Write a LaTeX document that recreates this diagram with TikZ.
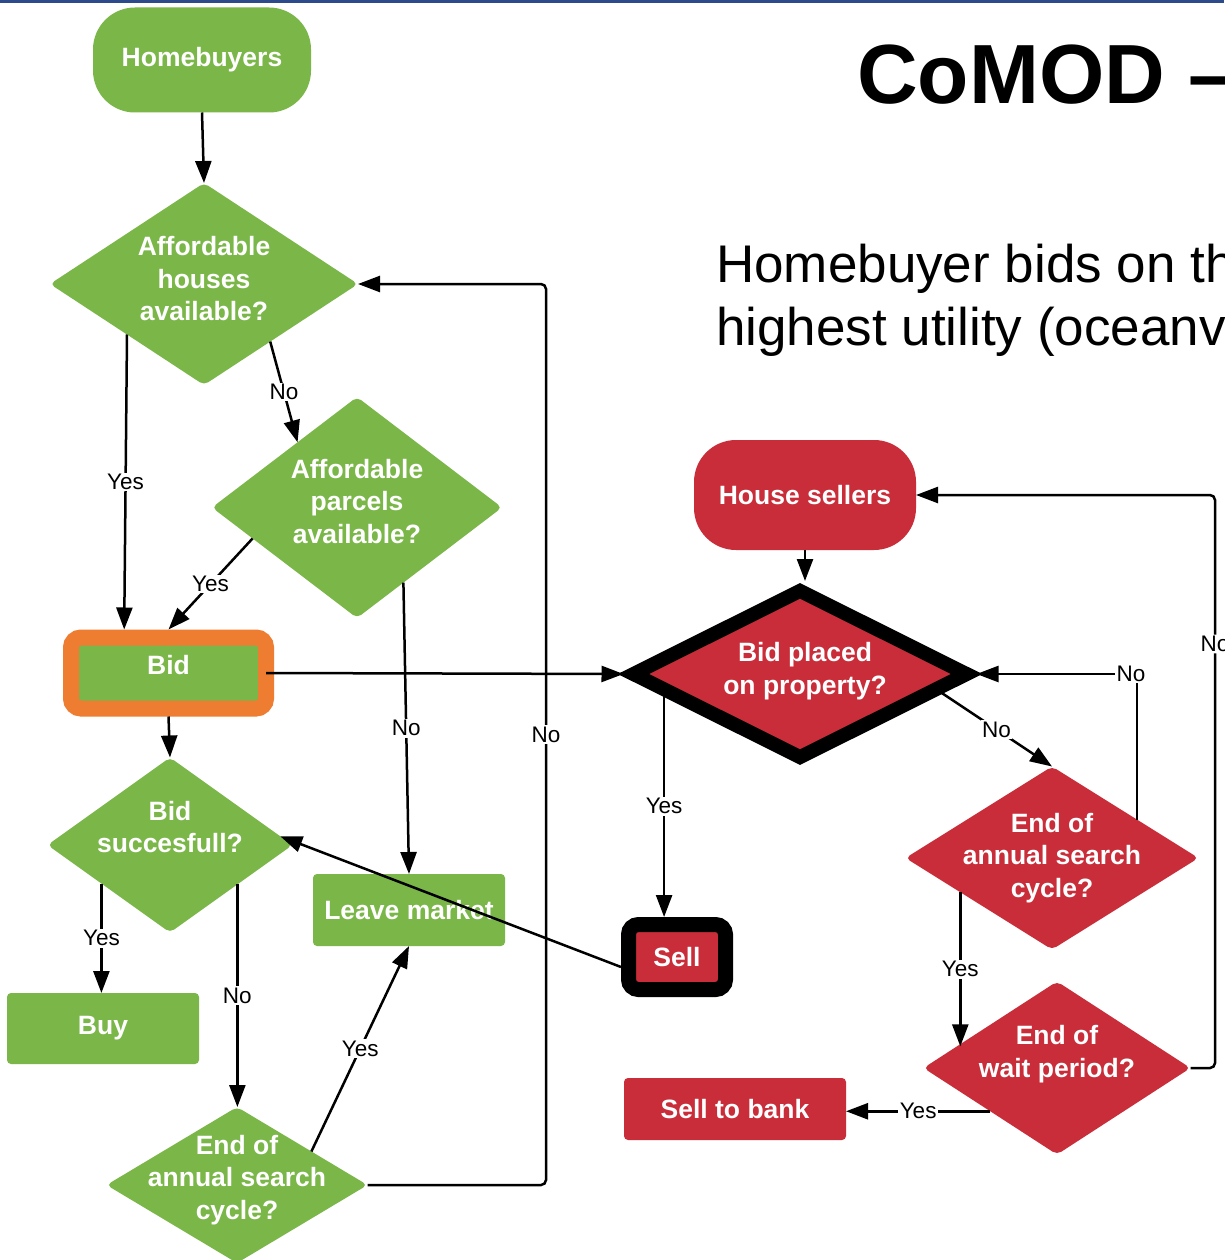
\documentclass[tikz,border=0pt]{standalone}
\usepackage{fontspec}
\setmainfont{Liberation Sans}
\usetikzlibrary{shapes.geometric,arrows.meta,calc}
\definecolor{lgreen}{HTML}{7AB648}
\definecolor{lred}{HTML}{C92D39}
\definecolor{lorange}{HTML}{EE7D31}
\definecolor{slideblue}{HTML}{2D4A8A}
\begin{document}
\begin{tikzpicture}[x=1pt,y=-1pt,
  boxtext/.style={text=white, font=\fontsize{26.5}{32.5}\selectfont\bfseries, align=center, inner sep=0pt},
  gbox/.style={rectangle, fill=lgreen, rounded corners=4pt, inner sep=0pt, outer sep=0pt, boxtext},
  rbox/.style={rectangle, fill=lred, rounded corners=4pt, inner sep=0pt, outer sep=0pt, boxtext},
  gdia/.style={diamond, fill=lgreen, rounded corners=5pt, inner sep=0pt, outer sep=0pt},
  rdia/.style={diamond, fill=lred, rounded corners=5pt, inner sep=0pt, outer sep=0pt},
  arr/.style={draw=black, line width=2.5pt, -{Triangle[length=22pt,width=16pt]}},
  lbl/.style={fill=white, inner sep=1.5pt, text=black, font=\fontsize{22.5}{25}\selectfont},
]
\useasboundingbox (0,0) rectangle (1224,1260);
\fill[white] (0,0) rectangle (1224,1260);
\fill[slideblue] (0,0) rectangle (1224,3.5);

% heading and caption
\node[anchor=base west, inner sep=0pt, font=\fontsize{84}{90}\selectfont\bfseries] (title) at (857,104) {CoMOD –};
\node[anchor=base west, inner sep=0pt, font=\fontsize{53}{62}\selectfont] (cap1) at (716,282) {Homebuyer bids on th};
\node[anchor=base west, inner sep=0pt, font=\fontsize{53}{62}\selectfont] (cap2) at (716,345) {highest utility (oceanv};

% homebuyer side
\node[gbox, rounded corners=42pt, minimum width=218pt, minimum height=105pt] (hb) at (202,60) {Homebuyers};
\node[gdia, minimum width=308pt, minimum height=202pt] (d1) at (204,284) {};
\node[boxtext] (d1t) at ([yshift=5pt]d1.center) {Affordable\\houses\\available?};
\node[gdia, minimum width=290pt, minimum height=221pt] (d2) at (357,507.5) {};
\node[boxtext] (d2t) at ([yshift=6pt]d2.center) {Affordable\\parcels\\available?};
\node[rectangle, fill=lgreen, draw=lorange, line width=16pt, rounded corners=10pt,
      minimum width=195pt, minimum height=71pt, inner sep=0pt] (bid) at (168.5,673) {};
\node[boxtext] (bidt) at ([yshift=8pt]bid.center) {Bid};
\node[gdia, minimum width=245pt, minimum height=175pt] (d3) at (170,845) {};
\node[boxtext] (d3t) at ([yshift=18pt]d3.center) {Bid\\succesfull?};
\node[gbox, minimum width=192pt, minimum height=71pt] (buy) at (103,1028.5) {Buy};
\node[gbox, minimum width=192pt, minimum height=72pt] (leave) at (409,910) {Leave market};
\node[gdia, minimum width=261pt, minimum height=156pt] (d4) at (237,1185) {};
\node[boxtext] (d4t) at ([yshift=5pt]d4.center) {End of\\annual search\\cycle?};

% seller side
\node[rbox, rounded corners=42pt, minimum width=222pt, minimum height=110pt] (hs) at (805,495) {House sellers};
\node[diamond, fill=lred, draw=black, line width=14pt, minimum width=339pt, minimum height=172pt, inner sep=0pt] (bp) at (800,674) {};
\node[boxtext] (bpt) at ([xshift=5pt,yshift=3pt]bp.center) {Bid placed\\on property?};
\node[rectangle, fill=lred, draw=black, line width=15pt, rounded corners=10pt,
      minimum width=97pt, minimum height=65pt, inner sep=0pt, boxtext] (sell) at (677,957) {Sell};
\node[rdia, minimum width=293pt, minimum height=183pt] (d5) at (1052,858) {};
\node[boxtext] (d5t) at (d5.center) {End of\\annual search\\cycle?};
\node[rdia, minimum width=267pt, minimum height=173pt] (d6) at (1057,1068) {};
\node[boxtext] (d6t) at ([yshift=14pt]d6.center) {End of\\wait period?};
\node[rbox, minimum width=222pt, minimum height=62pt] (stb) at (735,1109) {Sell to bank};

% turning points of the two return loops
\coordinate (loopA) at (546,284);
\coordinate (loopB) at (1215,495);

% homebuyer connectors
\draw[arr] (hb.south) -- (d1.north);
\draw[arr] ($(d1.south)!0.43!(d1.east)$) -- node[lbl]{No} ($(d2.north)!0.41!(d2.west)$);
\draw[arr] ($(d1.west)!0.5!(d1.south)$) -- node[lbl]{Yes} ($(bid.north west)!0.29!(bid.north east)$);
\draw[arr] ($(d2.west)!0.28!(d2.south)$) -- node[lbl]{Yes} (bid.north);
\draw[arr] ($(d2.south)!0.32!(d2.east)$) -- node[lbl]{No} (leave.north);
\draw[arr] (bid.south) -- (d3.north);
\coordinate (d3y) at ($(d3.west)!0.44!(d3.south)$);
\draw[arr] (d3y) -- node[lbl]{Yes} (d3y |- buy.north);
\coordinate (d3n) at ($(d3.south)!0.55!(d3.east)$);
\draw[arr] (d3n) -- node[lbl]{No} (d3n |- d4.north);
\draw[arr] ($(d4.north)!0.57!(d4.east)$) -- node[lbl]{Yes} (leave.south);
\draw[arr, rounded corners=5pt] (d4.east) -| node[lbl, pos=0.75]{No} (loopA) -- (d1.east);

% bid goes to the sellers
\draw[arr] ([xshift=-8pt]bid.east) -- (bp.west);

% seller connectors
\draw[arr] (hs.south) -- (hs.south |- bp.north);
\coordinate (bpy) at ($(bp.west)!0.23!(bp.south)$);
\draw[arr] (bpy) -- node[lbl]{Yes} (bpy |- sell.north);
\draw[arr] ([yshift=-10pt]sell.west) -- ($(d3.east)!0.1!(d3.north)$);
\draw[arr] ($(bp.east)!0.2!(bp.south)$) -- node[lbl]{No} (d5.north);
\coordinate (d5n) at ($(d5.north)!0.58!(d5.east)$);
\draw[arr] (d5n) |- node[lbl, pos=0.5, xshift=-6pt]{No} (bp.east);
\coordinate (d5y) at ($(d5.west)!0.374!(d5.south)$);
\coordinate (d6y) at ($(d6.west)!0.25!(d6.north)$);
\draw[arr] (d5y) -- node[lbl]{Yes} (d5y |- d6y);
\draw[arr, rounded corners=5pt] (d6.east) -| node[lbl, pos=0.87]{No} (loopB) -- (hs.east);
\coordinate (d6s) at ($(d6.west)!0.5!(d6.south)$);
\draw[arr] (d6s) -- node[lbl]{Yes} (d6s -| stb.east);
\end{tikzpicture}
\end{document}
